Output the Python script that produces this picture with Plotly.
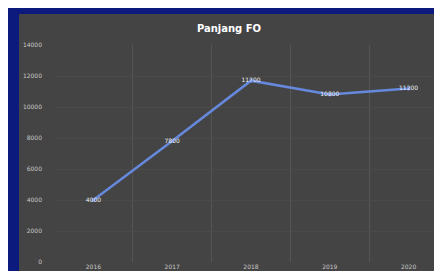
import plotly.graph_objects as go

years = ["2016", "2017", "2018", "2019", "2020"]
values = [4000, 7800, 11700, 10800, 11200]
labels = ["4000", "7800", "11700", "10800", "11200"]
y_ticks = [0, 2000, 4000, 6000, 8000, 10000, 12000, 14000]

L, R, T, B = 46, 2, 37, 17
W, H = 442, 271
pw, ph = W - L - R, H - T - B

fig = go.Figure()
fig.add_trace(go.Scatter(
    x=years, y=values, mode="lines+markers+text",
    text=labels, textposition="middle center",
    textfont=dict(color="#f0f0f0", size=6, family="DejaVu Sans"),
    line=dict(color="#6688dd", width=2.5),
    marker=dict(size=4, color="#6688dd"),
    cliponaxis=False,
))

fig.add_shape(type="rect", xref="paper", yref="paper",
              x0=(11 - L) / pw, x1=(439 - L) / pw,
              y0=(H - B - 272) / ph, y1=(H - B - 6) / ph,
              fillcolor="#444444", line=dict(width=0), layer="below")

fig.update_layout(
    width=W, height=H,
    margin=dict(l=L, r=R, t=T, b=B),
    paper_bgcolor="#0b1a7c",
    plot_bgcolor="rgba(0,0,0,0)",
    showlegend=False,
    title=dict(text="<b>Panjang FO</b>", x=0.5, xanchor="center", y=1 - 20 / H, yanchor="middle",
               font=dict(color="#ffffff", size=10, family="DejaVu Sans")),
    xaxis=dict(type="category", tickson="boundaries", range=[-0.5, 4.5], showgrid=True,
               gridcolor="#555555", ticks="",
               tickfont=dict(color="#c8c8c8", size=6, family="DejaVu Sans"),
               showline=False, zeroline=False),
    yaxis=dict(range=[0, 14000], tickvals=y_ticks, tickformat="d", showgrid=True,
               gridcolor="#4a4a4a", ticks="",
               tickfont=dict(color="#c8c8c8", size=6, family="DejaVu Sans"),
               zeroline=False, showline=False, ticklabelstandoff=11),
)

fig.write_html("out.html")
